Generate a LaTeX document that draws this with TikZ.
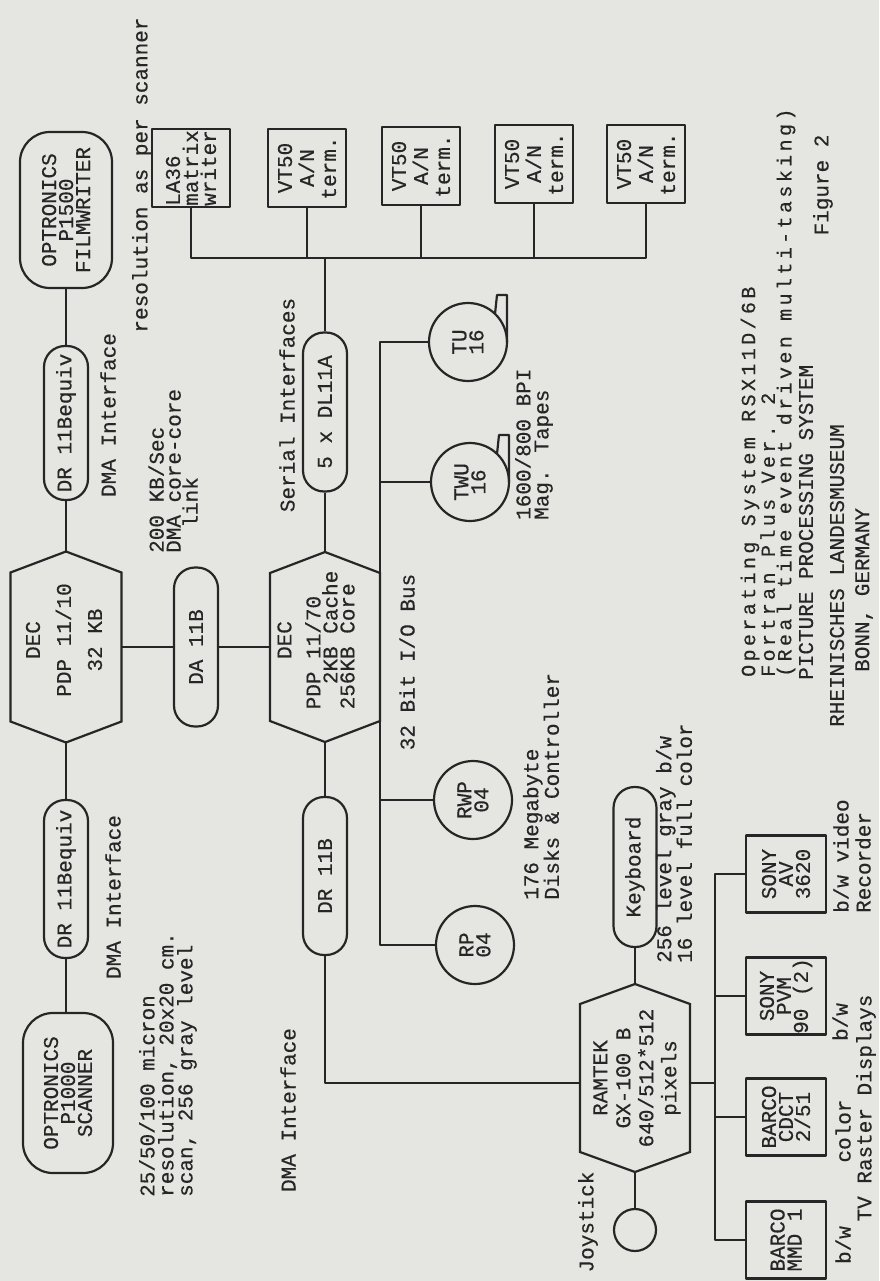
\documentclass[tikz,border=0pt]{standalone}
\usepackage{fontspec}
\usetikzlibrary{calc}
\newfontfamily\tyfam[FakeBold=0.4]{Liberation Mono}
\newfontfamily\tywide[FakeBold=0.4,LetterSpace=17]{Liberation Mono}
\definecolor{ink}{RGB}{38,38,38}
\definecolor{paper}{RGB}{229,229,226}
\newcommand\tyA{\tyfam\fontsize{21}{17}\selectfont}
\newcommand\tyW{\tywide\fontsize{20}{16.5}\selectfont}
\newcommand\tyT{\tyfam\fontsize{21}{12}\selectfont}
\begin{document}
\begin{tikzpicture}[x=1pt,y=-1pt,
  ln/.style={draw=ink,line width=2.2pt,line join=round},
  lbl/.style={rotate=90,inner sep=0pt,text=ink,font=\tyA,align=left},
  boxn/.style={ln,rectangle,rotate=90,inner sep=0pt,text=ink,font=\tyA,align=center},
  stad/.style={boxn,rounded corners=21pt,minimum height=44pt},
  rbox/.style={boxn,rounded corners=30pt},
  disk/.style={ln,circle,rotate=90,inner sep=0pt,text=ink,font=\tyA,align=center,minimum size=78pt},
  termbox/.style={boxn,minimum width=78pt,minimum height=78pt},
  dispbox/.style={boxn,minimum width=77pt,minimum height=80pt},
  hext/.style={rotate=90,inner sep=0pt,text=ink,font=\tyA,align=center},
]
\fill[paper] (0,0) rectangle (879,1281);
\useasboundingbox (0,0) rectangle (879,1281);

% ---------- column A : scanner, PDP 11/10, filmwriter ----------
\node[rbox,minimum width=156pt,minimum height=92pt] (film) at (66,210) {OPTRONICS\\P1500\\FILMWRITER};
\node[stad,minimum width=154pt] (drU) at (66,423) {DR 11Bequiv};
\node[hext] (pdpA) at (64,640) {DEC\\[14pt]PDP 11/10\\[14pt]32 KB};
\coordinate (pdpA-n) at (66,551.5);
\coordinate (pdpA-s) at (66,742.5);
\coordinate (pdpA-e) at (121.5,647);
\coordinate (pdpA-w) at (10.5,647);
\draw[ln,line join=miter] (pdpA-n) -- (121.5,572.5) -- (121.5,721.5) -- (pdpA-s) -- (10.5,721.5) -- (10.5,572.5) -- cycle;
\node[stad,minimum width=158pt] (drL) at (66,879) {DR 11Bequiv};
\node[rbox,minimum width=160pt,minimum height=90pt] (scan) at (68,1093) {OPTRONICS\\P1000\\SCANNER};

\draw[ln] (film) -- (drU);
\draw[ln] (drU) -- (pdpA-n);
\draw[ln] (pdpA-s) -- (drL);
\draw[ln] (drL) -- (drL |- scan.east);

% ---------- DA 11B and PDP 11/70 ----------
\node[stad,minimum width=159pt] (da) at (196,647) {DA 11B};
\node[hext,align=left] (pdpB) at (316,640) {\ \ \ \ DEC\\[12pt]PDP 11/70\\\ \ 2KB Cache\\256KB Core};
\coordinate (pdpB-n) at (325,552);
\coordinate (pdpB-s) at (325,742);
\coordinate (pdpB-e) at (380,647);
\coordinate (pdpB-w) at (270,647);
\draw[ln,line join=miter] (pdpB-n) -- (380,573) -- (380,721) -- (pdpB-s) -- (270,721) -- (270,573) -- cycle;
\draw[ln] (pdpA-e) -- (da);
\draw[ln] (da) -- (pdpB-w);

\node[stad,minimum width=159pt] (dl) at (325,412) {5 x DL11A};
\node[stad,minimum width=158pt] (drM) at (325,876) {DR 11B};
\draw[ln] (pdpB-n) -- (dl);
\draw[ln] (pdpB-s) -- (drM);

% ---------- terminals ----------
\node[termbox,align=left] (la36) at (191,168) {LA36\\[1pt]matrix\\[1pt]writer};
\node[termbox] (vt1) at (307,168) {VT50\\[5pt]A/N\\[5pt]term.};
\node[termbox] (vt2) at (421,166) {VT50\\[5pt]A/N\\[5pt]term.};
\node[termbox] (vt3) at (534,164) {VT50\\[5pt]A/N\\[5pt]term.};
\node[termbox] (vt4) at (646,164) {VT50\\[5pt]A/N\\[5pt]term.};
\coordinate (tbL) at (191,258);
\coordinate (tbR) at (646,258);
\draw[ln] (la36) -- (tbL) -- (tbR) -- (vt4);
\draw[ln] (vt1) -- (vt1 |- tbL);
\draw[ln] (vt2) -- (vt2 |- tbL);
\draw[ln] (vt3) -- (vt3 |- tbL);
\draw[ln] (dl) -- (dl |- tbL);

% ---------- I/O bus, disks and tapes ----------
\node[disk] (tu) at (468,342) {TU\\16};
\node[disk] (twu) at (470,482) {TWU\\16};
\node[disk] (rwp) at (473,800) {RWP\\04};
\node[disk] (rp) at (475,945) {RP\\04};
\coordinate (iobT) at (380,342);
\coordinate (iobB) at (380,945);
\draw[ln] (tu) -- (iobT) -- (iobB) -- (rp);
\draw[ln] (twu -| iobT) -- (twu);
\draw[ln] (rwp -| iobT) -- (rwp);
\draw[ln] ($(tu)+(39,0)$) -- ($(tu)+(39,-47)$) -- ($(tu)+(29,-47)$) -- ($(tu)+(27,-28)$);
\draw[ln] ($(twu)+(39,0)$) -- ($(twu)+(39,-47)$) -- ($(twu)+(29,-47)$) -- ($(twu)+(27,-28)$);

% ---------- RAMTEK ----------
\node[hext] (ram) at (637,1078) {RAMTEK\\[6pt]GX-100 B\\[6pt]640/512*512\\[6pt]pixels};
\coordinate (ram-n) at (635,984);
\coordinate (ram-s) at (635,1172);
\coordinate (ram-e) at (690,1083);
\coordinate (ram-w) at (580,1083);
\draw[ln,line join=miter] (ram-n) -- (690,1004) -- (690,1152) -- (ram-s) -- (580,1152) -- (580,1004) -- cycle;
\node[stad,minimum width=160pt,minimum height=43pt] (kbd) at (635,867) {Keyboard};
\node[ln,circle,minimum size=42pt,inner sep=0pt] (joy) at (635,1230) {};
\draw[ln] (kbd) -- (ram-n);
\draw[ln] (ram-s) -- (joy);
\draw[ln] (drM) |- (ram-w);

% ---------- displays ----------
\node[dispbox] (mmd) at (786,1240) {BARCO\\MMD 1};
\node[dispbox] (cdct) at (786,1117) {BARCO\\CDCT\\2/51};
\node[dispbox] (pvm) at (786,996) {SONY\\PVM\\90 (2)};
\node[dispbox] (av) at (786,874) {SONY\\AV\\3620};
\coordinate (dbus) at (715,1083);
\draw[ln] (ram-e) -- (dbus);
\draw[ln] (av) -- (av -| dbus) -- (mmd -| dbus) -- (mmd);
\draw[ln] (cdct -| dbus) -- (cdct);
\draw[ln] (pvm -| dbus) -- (pvm);

% ---------- labels ----------
\node[lbl] (lres) at (142,175) {resolution as per scanner};
\node[lbl] (ldmaU) at (108,415) {DMA Interface};
\node[lbl] (ldmaL) at (113,897) {DMA Interface};
\node[lbl,anchor=west,font=\tyfam\fontsize{21}{19}\selectfont] (lmic) at (168,1197) {25/50/100 micron\\resolution, 20x20 cm.\\scan, 256 gray level};
\node[lbl,anchor=west,font=\tyfam\fontsize{21}{17}\selectfont] (lkbs) at (173,553) {200 KB/Sec\\DMA core-core\\\ \ link};
\node[lbl] (lser) at (287,405) {Serial Interfaces};
\node[lbl] (ldmaM) at (288,1110) {DMA Interface};
\node[lbl] (lbus) at (407,662) {32 Bit I/O Bus};
\node[lbl,anchor=west,font=\tyfam\fontsize{21}{18}\selectfont] (ldisk) at (541,900) {176 Megabyte\\Disks \& Controller};
\node[lbl,anchor=west,font=\tyfam\fontsize{21}{18}\selectfont] (ltape) at (534,520) {1600/800 BPI\\Mag. Tapes};
\node[lbl] (ljoy) at (588,1222) {Joystick};
\node[lbl,anchor=west,font=\tyT] (llev) at (674,963) {256 level gray b/w\\16 level full color};
\node[lbl] (lbw1) at (843,1245) {b/w};
\node[lbl] (lcol) at (843,1131) {color};
\node[lbl] (lbw2) at (840,1022) {b/w};
\node[lbl] (ltv) at (866,1108) {TV Raster Displays};
\node[lbl,anchor=west,font=\tyfam\fontsize{21}{22}\selectfont] (lvid) at (852,913) {b/w video\\Recorder};
\node[lbl,anchor=west,font=\tyW] (los) at (768,677) {Operating System RSX11D/6B\\Fortran Plus Ver. 2\\(Real time event driven multi-tasking)};
\node[lbl,anchor=west] (lpps) at (806,680) {PICTURE PROCESSING SYSTEM};
\node[lbl] (lfig) at (823,185) {Figure 2};
\node[lbl,anchor=west] (lrlm) at (837,727) {RHEINISCHES LANDESMUSEUM};
\node[lbl,anchor=west] (lbonn) at (864,672) {BONN, GERMANY};
\end{tikzpicture}
\end{document}
